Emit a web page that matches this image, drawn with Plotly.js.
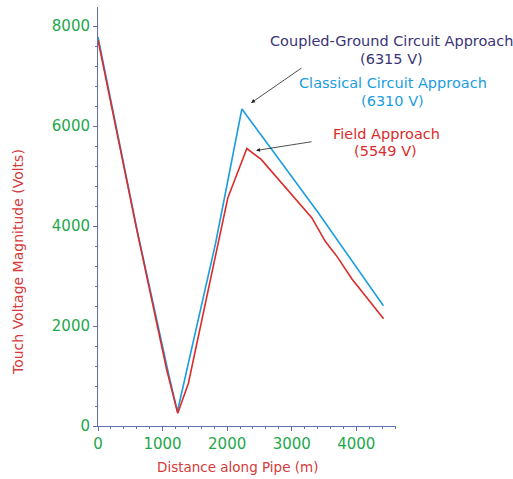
<!DOCTYPE html>
<html>
<head>
<meta charset="utf-8">
<script src="https://cdn.plot.ly/plotly-3.0.1.min.js"></script>
<style>
  html, body { margin: 0; padding: 0; background: #fff; }
  #chart { width: 513px; height: 479px; }
</style>
</head>
<body>
<div id="chart"></div>
<script>
'use strict'

// distance along pipe (m) and touch voltage (V)
const classicalX = [0, 600, 1100, 1230, 1430, 1820, 2228, 3400, 4420];
const classicalY = [7780, 3950, 1000, 290, 1430, 3650, 6340, 4285, 2405];

const fieldX = [0, 600, 1065, 1235, 1400, 2010, 2305, 2527, 3313, 3519, 3700, 3933, 4423];
const fieldY = [7720, 3930, 1120, 255, 856, 4560, 5549, 5331, 4162, 3693, 3393, 2940, 2144];

const yTicks = [0, 2000, 4000, 6000, 8000];
const xTicks = [0, 1000, 2000, 3000, 4000];

const axisColor = '#6270b0',
    tickGreen = '#22a84a',
    titleRed = '#d63a3a',
    navy = '#3b3478',
    blue = '#1b9ddf',
    red = '#dc2b2b';

// plot box in page pixels, used to place the labels (paper coords are plot-area relative)
const L = 98, R = 396, T = 7, B = 426;
function px(x) { return (x - L) / (R - L); }
function py(y) { return (B - y) / (B - T); }

const font = 'DejaVu Sans, sans-serif';

let traces = [
    {
        x: classicalX,
        y: classicalY,
        type: 'scatter',
        mode: 'lines',
        line: { color: blue, width: 1.6 },
        hoverinfo: 'skip'
    },
    {
        x: fieldX,
        y: fieldY,
        type: 'scatter',
        mode: 'lines',
        line: { color: red, width: 1.6 },
        hoverinfo: 'skip'
    }
];

function label(x, y, text, color, size) {
    return { xref: 'paper', yref: 'paper', x: px(x), y: py(y), text: text, showarrow: false,
             font: { family: font, size: size, color: color }, xanchor: 'center', yanchor: 'middle' };
}

function arrow(x0, y0, x1, y1) {
    return { xref: 'paper', yref: 'paper', axref: 'paper', ayref: 'paper',
             x: px(x1), y: py(y1), ax: px(x0), ay: py(y0), text: '', showarrow: true,
             arrowhead: 2, arrowsize: 1, arrowwidth: 0.8, arrowcolor: '#222222' };
}

let yTitle = label(18, 262, 'Touch Voltage Magnitude (Volts)', titleRed, 14);
yTitle.textangle = -90;

let layout = {
    width: 513,
    height: 479,
    margin: { l: L, r: 513 - R, t: T, b: 479 - B },
    paper_bgcolor: '#ffffff',
    plot_bgcolor: '#ffffff',
    showlegend: false,
    font: { family: font },
    xaxis: {
        range: [0, 4615],
        tickvals: xTicks,
        showgrid: false,
        zeroline: false,
        showline: true,
        linecolor: axisColor,
        linewidth: 1,
        ticks: 'outside',
        ticklen: 4,
        tickcolor: axisColor,
        tickfont: { family: font, size: 15, color: tickGreen },
        minor: { dtick: 200, ticks: 'outside', ticklen: 2, tickcolor: axisColor }
    },
    yaxis: {
        range: [0, 8380],
        tickvals: yTicks,
        showgrid: false,
        zeroline: false,
        showline: true,
        linecolor: axisColor,
        linewidth: 1,
        ticks: 'outside',
        ticklen: 4,
        tickcolor: axisColor,
        tickfont: { family: font, size: 15, color: tickGreen },
        minor: { dtick: 400, ticks: 'outside', ticklen: 2, tickcolor: axisColor }
    },
    annotations: [
        label(391, 41, 'Coupled-Ground Circuit Approach', navy, 14.5),
        label(391.5, 59, '(6315 V)', navy, 14.5),
        label(392.5, 83, 'Classical Circuit Approach', blue, 14.5),
        label(392.5, 100.5, '(6310 V)', blue, 14.5),
        label(386, 134, 'Field Approach', red, 14.5),
        label(385.5, 151, '(5549 V)', red, 14.5),
        label(237.5, 467, 'Distance along Pipe (m)', titleRed, 13.5),
        yTitle,
        arrow(303, 67, 251, 103),
        arrow(313, 141.5, 256, 150.5)
    ]
};

Plotly.newPlot('chart', traces, layout, { staticPlot: true });
</script>
</body>
</html>
